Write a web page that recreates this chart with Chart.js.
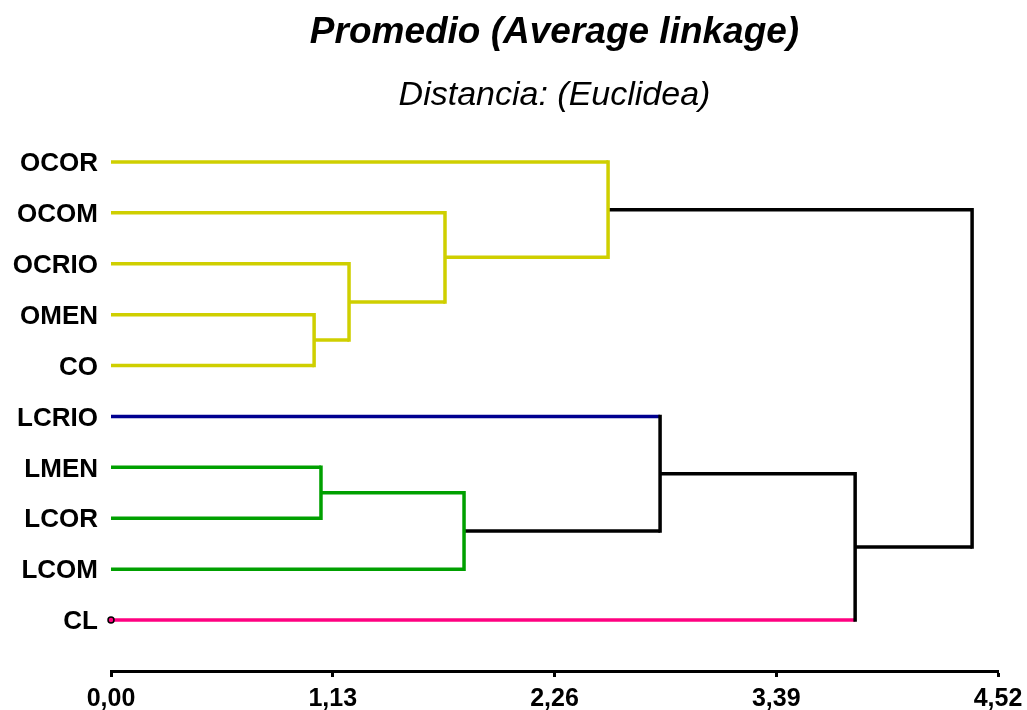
<!DOCTYPE html>
<html>
<head>
<meta charset="utf-8">
<script src="https://cdn.jsdelivr.net/npm/chart.js@4.4.1/dist/chart.umd.min.js"></script>
<style>
  html, body { margin: 0; padding: 0; background: #ffffff; }
  canvas { display: block; }
</style>
</head>
<body>
<canvas id="dendro" width="1027" height="710"></canvas>
<script>
// Leaves, top to bottom
const leaves = ['OCOR', 'OCOM', 'OCRIO', 'OMEN', 'CO', 'LCRIO', 'LMEN', 'LCOR', 'LCOM', 'CL'];
const leafColors = ['#cfcf00', '#cfcf00', '#cfcf00', '#cfcf00', '#cfcf00', '#000090', '#00a000', '#00a000', '#00a000', '#ff0080'];

// Agglomeration steps: node ids 0..9 are leaves, step k creates node 10 + k
const mergeLeft    = [3, 2, 1, 0, 6, 14, 5, 16, 13];
const mergeRight   = [4, 10, 11, 12, 7, 8, 15, 9, 17];
const mergeHeights = [1.035, 1.213, 1.702, 2.533, 1.070, 1.799, 2.798, 3.792, 4.388];
const mergeColors  = ['#cfcf00', '#cfcf00', '#cfcf00', '#cfcf00', '#00a000', '#00a000', '#000000', '#000000', '#000000'];

// Distance axis
const axisTicks = [0, 1.13, 2.26, 3.39, 4.52];
const axisTickLabels = ['0,00', '1,13', '2,26', '3,39', '4,52'];

const FONT = "'Liberation Sans', Arial, sans-serif";
const LINE_W = 3.5;

// Node positions (height, row) and parent links
const nLeaves = leaves.length;
const nodeRow = leaves.map((_, i) => i);
const nodeHeight = leaves.map(() => 0);
const parentOf = [];
mergeLeft.forEach((l, k) => {
  const r = mergeRight[k];
  const id = nLeaves + k;
  nodeRow.push((nodeRow[l] + nodeRow[r]) / 2);
  nodeHeight.push(mergeHeights[k]);
  parentOf[l] = id;
  parentOf[r] = id;
});

const datasets = [];
// Horizontal stems from each node to its parent's height
nodeRow.forEach((row, i) => {
  const p = parentOf[i];
  if (p === undefined) return;
  const color = i < nLeaves ? leafColors[i] : mergeColors[p - nLeaves];
  datasets.push({
    data: [{ x: nodeHeight[i], y: row }, { x: nodeHeight[p], y: row }],
    borderColor: color, borderWidth: LINE_W, borderCapStyle: 'butt',
    showLine: true, pointRadius: 0, order: 2
  });
});
// Vertical brackets joining the two children of each step
mergeLeft.forEach((l, k) => {
  const r = mergeRight[k];
  datasets.push({
    data: [{ x: mergeHeights[k], y: nodeRow[l] }, { x: mergeHeights[k], y: nodeRow[r] }],
    borderColor: mergeColors[k], borderWidth: LINE_W, borderCapStyle: 'square',
    showLine: true, pointRadius: 0, order: 1
  });
});
// Small marker at the root of the CL stem
datasets.push({
  data: [{ x: 0, y: nLeaves - 1 }],
  showLine: false, pointRadius: 3, pointBackgroundColor: '#ff0080',
  pointBorderColor: '#000000', pointBorderWidth: 1.5, order: 0, clip: false
});

new Chart(document.getElementById('dendro'), {
  type: 'scatter',
  data: { datasets },
  options: {
    responsive: false,
    animation: false,
    layout: { padding: { left: 0, right: 29, top: 0, bottom: 0 } },
    plugins: {
      legend: { display: false },
      tooltip: { enabled: false },
      title: {
        display: true, fullSize: false,
        text: 'Promedio (Average linkage)',
        color: '#000000',
        font: { family: FONT, size: 37, weight: 'bold', style: 'italic', lineHeight: 1.2 },
        padding: { top: 11, bottom: 7 }
      },
      subtitle: {
        display: true, fullSize: false,
        text: 'Distancia: (Euclidea)',
        color: '#000000',
        font: { family: FONT, size: 34, weight: 'normal', style: 'italic', lineHeight: 1.0 },
        padding: { top: 16, bottom: -1.4 }
      }
    },
    scales: {
      x: {
        type: 'linear', position: 'bottom',
        min: 0, max: 4.52,
        afterBuildTicks: (scale) => { scale.ticks = axisTicks.map(v => ({ value: v })); },
        afterFit: (scale) => { scale.height = 39; scale.paddingLeft = 0; scale.paddingRight = 0; },
        border: { display: true, color: '#000000', width: 3 },
        grid: { display: true, drawOnChartArea: false, drawTicks: true, tickLength: 6, tickWidth: 3, tickColor: '#000000' },
        ticks: {
          color: '#000000', padding: 7, maxRotation: 0, autoSkip: false,
          font: { family: FONT, size: 25, weight: 'bold' },
          callback: (v, i) => axisTickLabels[i]
        }
      },
      y: {
        type: 'linear', position: 'left', reverse: true,
        min: -1, max: 10,
        afterBuildTicks: (scale) => { scale.ticks = leaves.map((_, i) => ({ value: i })); },
        afterFit: (scale) => { scale.width = 111; },
        border: { display: false },
        grid: { display: false, drawTicks: false },
        ticks: {
          color: '#000000', padding: 13, autoSkip: false, labelOffset: 2,
          font: { family: FONT, size: 26, weight: 'bold' },
          callback: (v, i) => leaves[i]
        }
      }
    }
  }
});
</script>
</body>
</html>
